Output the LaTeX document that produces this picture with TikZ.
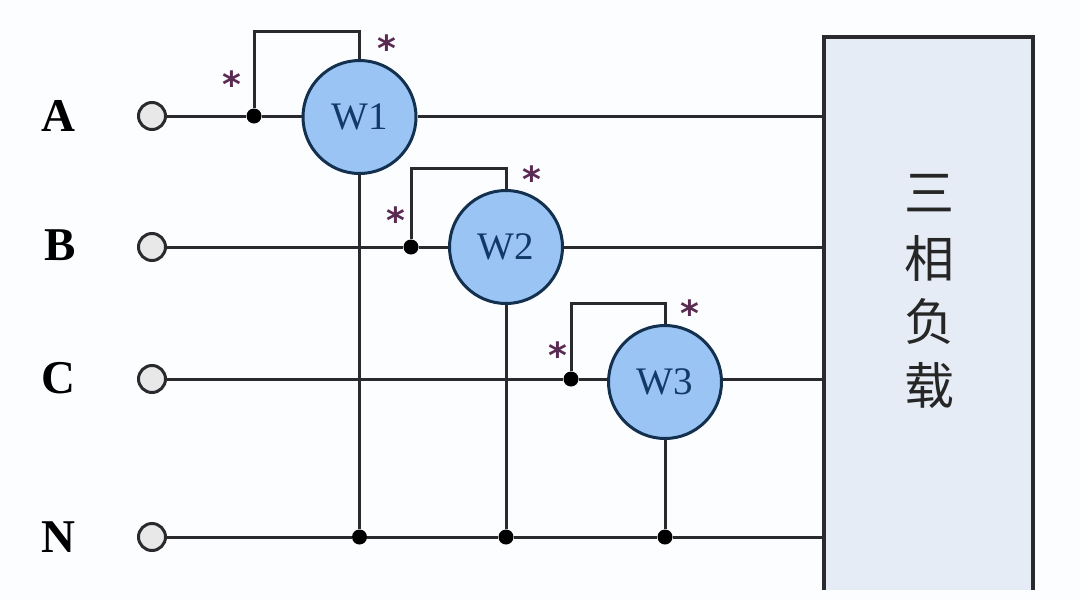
\documentclass[tikz,border=0pt]{standalone}
\usepackage{fontspec}
\setmainfont{Liberation Serif}
\newfontfamily\cjk{Noto Sans CJK SC}
\newfontfamily\starfont{DejaVu Sans}
\definecolor{wire}{HTML}{2A2A2E}
\definecolor{meterfill}{HTML}{99C4F4}
\definecolor{meterline}{HTML}{14304F}
\definecolor{metertext}{HTML}{123A66}
\definecolor{loadfill}{HTML}{E6ECF6}
\definecolor{termfill}{HTML}{E8E8E8}
\definecolor{starcol}{HTML}{5A2B52}
\definecolor{paper}{HTML}{FCFDFE}
\tikzset{
  wireline/.style={draw=wire,line width=3pt},
  meter/.style={circle,draw=meterline,line width=3pt,fill=meterfill,minimum size=113pt,inner sep=0pt,text=metertext,font=\fontsize{39}{39}\selectfont},
  terminal/.style={circle,draw=wire,line width=3pt,fill=termfill,minimum size=27pt,inner sep=0pt},
  junction/.style={circle,fill=black,minimum size=15pt,inner sep=0pt},
  phase/.style={inner sep=0pt,text=black,font=\fontsize{47}{47}\selectfont\bfseries},
  starmark/.style={inner sep=0pt,text=starcol,font=\starfont\bfseries\fontsize{36}{36}\selectfont},
  loadtext/.style={inner sep=0pt,text=black!85,font=\cjk\fontsize{50}{50}\selectfont}
}
\begin{document}
\begin{tikzpicture}[x=1pt,y=-1pt]
\useasboundingbox (0,0) rectangle (1080,600);
\fill[paper] (0,0) rectangle (1080,600);
% load
\fill[loadfill] (824,37) rectangle (1033,590);
\coordinate (lt) at (824,37);
\coordinate (rt) at (1033,37);
\coordinate (lb) at (824,590);
\coordinate (rb) at (1033,590);
\draw[draw=wire,line width=3.2pt] (lb) -- (lt) -- (rt) -- (rb);
\node[loadtext] (l1) at (929,193) {三};
\node[loadtext] (l2) at (929,258) {相};
\node[loadtext] (l3) at (929,322) {负};
\node[loadtext] (l4) at (929,386) {载};
\coordinate (ea) at (824,116);
\coordinate (eb) at (824,247);
\coordinate (ec) at (824,379);
\coordinate (en) at (824,537);
% terminals
\node[terminal] (ta) at (152,116) {};
\node[terminal] (tb) at (152,247) {};
\node[terminal] (tc) at (152,379) {};
\node[terminal] (tn) at (152,537) {};
% meters
\node[meter] (w1) at (359.5,117) {W1};
\node[meter] (w2) at (506,247) {W2};
\node[meter] (w3) at (665,382) {W3};
% junctions
\node[junction] (ja) at (254,116) {};
\node[junction] (jb) at (411,247) {};
\node[junction] (jc) at (571,379) {};
\node[junction] (n1) at (359.5,537) {};
\node[junction] (n2) at (506,537) {};
\node[junction] (n3) at (665,537) {};
\coordinate (ca) at (254,31);
\coordinate (cb) at (359.5,31);
\coordinate (cc) at (411,168);
\coordinate (cd) at (506,168);
\coordinate (ce) at (571,303);
\coordinate (cf) at (665,303);
% wires
\draw[wireline] (ta) -- (ja) -- (w1.west |- ja);
\draw[wireline] (w1.east |- ea) -- (ea);
\draw[wireline] (tb) -- (jb) -- (w2.west);
\draw[wireline] (w2.east) -- (eb);
\draw[wireline] (tc) -- (jc) -- (w3.west |- jc);
\draw[wireline] (w3.east |- ec) -- (ec);
\draw[wireline] (tn) -- (n1) -- (n2) -- (n3) -- (en);
\draw[wireline] (ja) -- (ca) -- (cb) -- (w1.north);
\draw[wireline] (jb) -- (cc) -- (cd) -- (w2.north);
\draw[wireline] (jc) -- (ce) -- (cf) -- (w3.north);
\draw[wireline] (w1.south) -- (n1);
\draw[wireline] (w2.south) -- (n2);
\draw[wireline] (w3.south) -- (n3);
% labels
\node[phase] (la) at (58,116) {A};
\node[phase] (lb2) at (60,245) {B};
\node[phase] (lc) at (58,378) {C};
\node[phase] (ln) at (58,537) {N};
% stars
\node[starmark] (s1) at (232,84) {*};
\node[starmark] (s2) at (387,48) {*};
\node[starmark] (s3) at (396,220) {*};
\node[starmark] (s4) at (532,179) {*};
\node[starmark] (s5) at (558,355) {*};
\node[starmark] (s6) at (690,313) {*};
\end{tikzpicture}
\end{document}
